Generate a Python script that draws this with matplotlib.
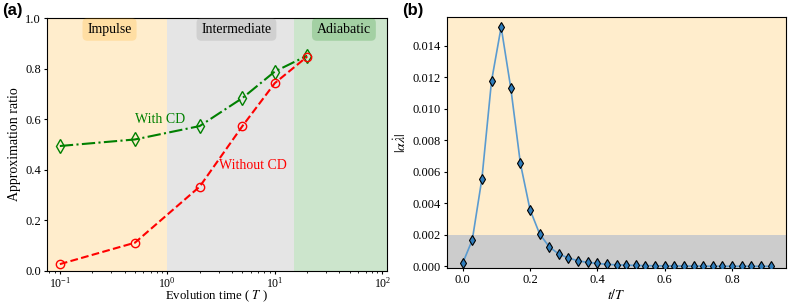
"""Approximation ratio vs evolution time, and |alpha lambda-dot| vs t/T."""
import numpy as np
import matplotlib
matplotlib.use("Agg")
import matplotlib.pyplot as plt

plt.rcParams["font.family"] = ["Liberation Serif", "DejaVu Serif"]
plt.rcParams["mathtext.fontset"] = "stix"
plt.rcParams["font.size"] = 9
plt.rcParams["xtick.major.size"] = 2.5
plt.rcParams["ytick.major.size"] = 2.5
plt.rcParams["xtick.minor.size"] = 1.5
plt.rcParams["xtick.major.pad"] = 2
plt.rcParams["ytick.major.pad"] = 2
plt.rcParams["axes.linewidth"] = 0.8

# panel (a)
evo_time = [0.1, 0.5, 2, 5, 10, 20]
ratio_cd = [0.494, 0.52, 0.573, 0.684, 0.789, 0.852]
ratio_nocd = [0.026, 0.111, 0.333, 0.573, 0.743, 0.848]
regions = ["Impulse", "Intermediate", "Adiabatic"]
region_edges = [0.076, 1.0, 15.0, 110.0]
region_colors = ["orange", "gray", "green"]
region_label_x = [0.29, 4.4, 44]

# panel (b)
t_over_T = np.arange(33) / 35
alpha_lam = [0.0002, 0.00168, 0.00556, 0.01175, 0.01517, 0.01131, 0.00653,
             0.0036, 0.00206, 0.00124, 0.00078, 0.00053, 0.00036, 0.00025,
             0.00019, 0.00013, 0.0001, 0.00008, 0.00006, 0.00005, 0.00004,
             0.00003, 0.00003, 0.00002, 0.00002, 0.00002, 0.00001, 0.00001,
             0.00001, 0.00001, 0.00001, 0.00001, 0.00001]

fig = plt.figure(figsize=(7.88, 3.03), dpi=100)
ax1 = fig.add_axes([0.0597, 0.1066, 0.431, 0.833])
ax2 = fig.add_axes([0.5676, 0.1155, 0.4298, 0.828])

for ii in range(3):
    ax1.axvspan(region_edges[ii], region_edges[ii + 1], color=region_colors[ii],
                alpha=0.2, lw=0)
    ax1.text(region_label_x[ii], 0.956, regions[ii], ha="center", va="center",
             fontsize=10,
             bbox=dict(boxstyle="round,pad=0.35", facecolor=region_colors[ii],
                       alpha=0.2, edgecolor="none"))

ax1.plot(evo_time, ratio_cd, "-.", color="green", marker="d", markersize=7,
         fillstyle="none", lw=1.5)
ax1.plot(evo_time, ratio_nocd, "--", color="red", marker="o", markersize=6,
         fillstyle="none", lw=1.5)
ax1.text(0.85, 0.6, "With CD", color="green", ha="center", va="center",
         fontsize=10)
ax1.text(6.3, 0.417, "Without CD", color="red", ha="center", va="center",
         fontsize=10)

ax1.set_xscale("log")
ax1.set_xlim(0.076, 110)
ax1.set_ylim(0, 1.0)
ax1.tick_params(axis="x", labelsize=8.5, pad=1.5)
ax1.set_xlabel("Evolution time ( $T$ )", fontsize=9.2)
ax1.xaxis.set_label_coords(0.5, -0.072)
ax1.set_ylabel("Approximation ratio", fontsize=10, labelpad=3)

# panel (b)
ax2.axhspan(0.002, 0.0158, color="orange", alpha=0.2, lw=0)
ax2.axhspan(-0.0001, 0.002, color="gray", alpha=0.4, lw=0)
ax2.plot(t_over_T, alpha_lam, "-", color="#5a9bd0", lw=1.2, zorder=2)
ax2.plot(t_over_T, alpha_lam, "d", color="#2f7dbb", markeredgecolor="black",
         markersize=5.5, markeredgewidth=0.8, zorder=3)
ax2.set_ylim(-0.0001, 0.0158)
ax2.set_xlim(-0.0457, 0.96)
ax2.set_yticks(np.arange(0, 0.0141, 0.002))
ax2.yaxis.set_major_formatter(plt.FormatStrFormatter("%.3f"))
ax2.set_xlabel("$t/T$", fontsize=10, labelpad=1)
ax2.set_ylabel(r"$|\alpha\dot{\lambda}|$", fontsize=10, labelpad=3)

fig.text(0.003, 0.965, "(a)", fontsize=12, fontweight="bold",
         family="Liberation Sans", va="center")
fig.text(0.51, 0.965, "(b)", fontsize=12, fontweight="bold",
         family="Liberation Sans", va="center")

fig.savefig("out.png", dpi=100)
